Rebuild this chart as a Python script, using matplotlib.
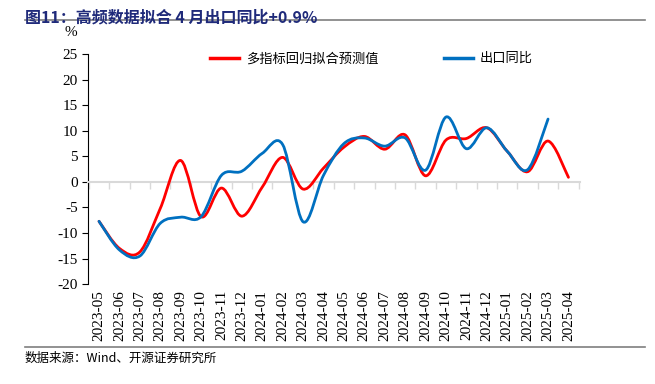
import matplotlib.pyplot as plt
import numpy as np
from matplotlib.path import Path
from matplotlib.patches import PathPatch
from matplotlib.lines import Line2D

SERIF = ["Liberation Serif", "DejaVu Serif"]
CJK = ["Noto Sans CJK SC", "DejaVu Sans"]
plt.rcParams['font.family'] = SERIF

months = ["2023-05", "2023-06", "2023-07", "2023-08", "2023-09", "2023-10",
          "2023-11", "2023-12", "2024-01", "2024-02", "2024-03", "2024-04",
          "2024-05", "2024-06", "2024-07", "2024-08", "2024-09", "2024-10",
          "2024-11", "2024-12", "2025-01", "2025-02", "2025-03", "2025-04"]
# 多指标回归拟合预测值
fitted = [-7.7, -13.0, -13.7, -5.2, 4.2, -6.8, -1.2, -6.7, -1.0, 4.8, -1.4, 2.7,
          6.8, 8.9, 6.4, 9.2, 1.2, 8.2, 8.5, 10.6, 6.0, 2.0, 8.0, 0.9]
# 出口同比 (no value for 2025-04 yet)
exports = [-7.7, -13.3, -14.5, -8.1, -6.9, -6.8, 1.3, 2.1, 5.6, 7.3, -7.8, 1.3,
           7.5, 8.6, 7.0, 8.6, 2.3, 12.7, 6.5, 10.6, 6.0, 2.4, 12.3]
yticks = list(range(-20, 26, 5))

RED = "#FF0000"
BLUE = "#0070C0"


def smooth_path(ys):
    # Catmull-Rom style bezier through the points, like Excel's smoothed line
    x = np.arange(len(ys), dtype=float)
    y = np.asarray(ys, dtype=float)
    pts = np.column_stack([x, y])
    verts = [pts[0]]
    codes = [Path.MOVETO]
    n = len(pts)
    for i in range(n - 1):
        p0 = pts[i - 1] if i > 0 else pts[i]
        p1 = pts[i]
        p2 = pts[i + 1]
        p3 = pts[i + 2] if i + 2 < n else pts[i + 1]
        c1 = p1 + (p2 - p0) / 6.0
        c2 = p2 - (p3 - p1) / 6.0
        verts += [c1, c2, p2]
        codes += [Path.CURVE4] * 3
    return Path(verts, codes)


fig = plt.figure(figsize=(6.55, 3.84), dpi=100)
ax = fig.add_axes([0.134, 0.26, 0.751, 0.599])

for series, col in [(fitted, RED), (exports, BLUE)]:
    ax.add_patch(PathPatch(smooth_path(series), facecolor="none", edgecolor=col,
                           lw=2.0, capstyle="round", joinstyle="round", zorder=3))

ax.set_xlim(-0.55, len(months) - 0.45)
ax.set_ylim(-20, 25)

for s in ["top", "right"]:
    ax.spines[s].set_visible(False)
ax.spines["left"].set_color("black")
ax.spines["bottom"].set_position(("data", 0))
ax.spines["bottom"].set_color("#D9D9D9")
ax.spines["bottom"].set_linewidth(1.5)

# ticks set after the spine move, so the labels keep their font
ax.set_yticks(yticks, labels=[str(v) for v in yticks], fontsize=11, fontfamily=SERIF)
ax.tick_params(axis="y", length=4, width=0.8, direction="out", pad=3)
ax.set_xticks(np.arange(len(months)))
ax.set_xticks(np.arange(len(months) + 1) - 0.5, minor=True)
ax.tick_params(axis="x", which="major", length=0, labelbottom=False)
ax.tick_params(axis="x", which="minor", length=5, width=1.0, color="#D9D9D9", direction="out")

sec = ax.secondary_xaxis(0)
sec.spines["bottom"].set_visible(False)
sec.set_xticks(np.arange(len(months)), labels=months, rotation=90, fontsize=11,
               fontfamily=SERIF)
sec.tick_params(length=0, pad=4)

ax.text(-0.035, 1.095, "%", transform=ax.transAxes, fontsize=11, ha="center",
        va="center", family=SERIF)

handles = [Line2D([], [], color=RED, lw=2.5), Line2D([], [], color=BLUE, lw=2.5)]
ax.legend(handles, ["多指标回归拟合预测值", "出口同比"], loc="upper left",
          bbox_to_anchor=(0.225, 1.06), ncol=2, frameon=False,
          handlelength=2.2, columnspacing=5.0, handletextpad=0.5,
          prop={"family": CJK, "size": 9.5})

fig.text(0.038, 0.975, "图11：高频数据拟合 4 月出口同比+0.9%", fontsize=11.5,
         fontweight="bold", color="#1F2A7A", ha="left", va="top", family=CJK)
fig.add_artist(Line2D([0.038, 0.985], [0.948, 0.948], color="#7F7F7F", lw=1.2))
fig.add_artist(Line2D([0.038, 0.985], [0.096, 0.096], color="#7F7F7F", lw=1.2))
fig.text(0.038, 0.068, "数据来源：Wind、开源证券研究所", fontsize=9, ha="left", va="center",
         family=CJK)

fig.savefig("out.png", dpi=100)
